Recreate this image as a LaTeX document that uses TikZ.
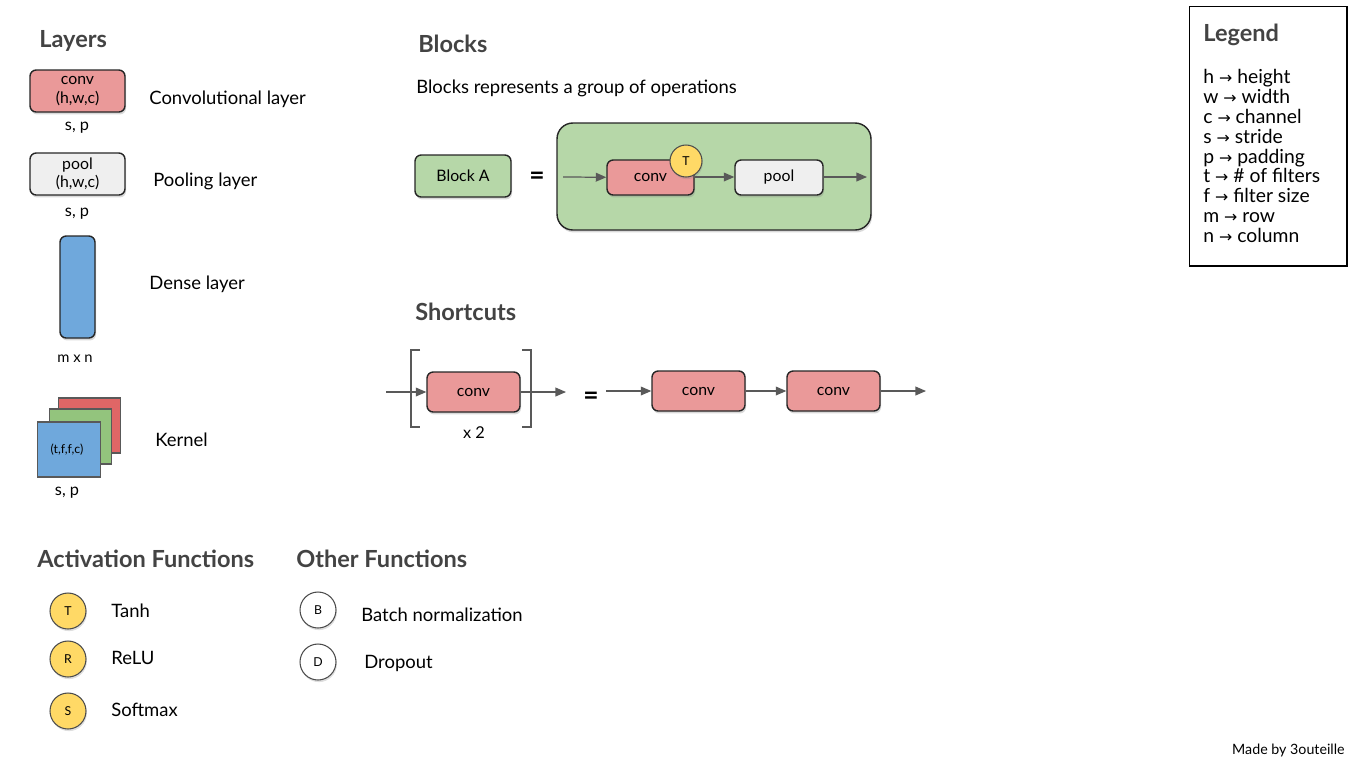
\documentclass[tikz,border=0pt]{standalone}
\usepackage{fontspec}
\setmainfont{Lato}
\newfontfamily\arrowfont{DejaVu Sans}
\usetikzlibrary{arrows.meta,shadows,positioning}
\definecolor{convred}{HTML}{EA9999}
\definecolor{poolgrey}{HTML}{EFEFEF}
\definecolor{denseblue}{HTML}{6FA8DC}
\definecolor{kernred}{HTML}{E06666}
\definecolor{kerngreen}{HTML}{93C47D}
\definecolor{blockgreen}{HTML}{B6D7A8}
\definecolor{actyellow}{HTML}{FFD966}
\definecolor{titlegrey}{HTML}{434343}
\definecolor{arrowgrey}{HTML}{595959}
\tikzset{
  layerbox/.style={draw=black!85, line width=0.8pt, rounded corners=3.5pt, inner sep=0pt,
    drop shadow={shadow xshift=0.6pt, shadow yshift=-1.4pt, opacity=0.3},
    font=\fontsize{9}{10.5}\selectfont, align=center},
  convbox/.style={layerbox, fill=convred, minimum width=1.86cm, minimum height=0.8cm},
  poolbox/.style={layerbox, fill=poolgrey, minimum width=1.76cm, minimum height=0.7cm},
  kernsq/.style={draw=arrowgrey, line width=0.6pt, minimum width=1.25cm, minimum height=1.1cm, inner sep=0pt},
  fcircle/.style={circle, draw=black!70, line width=0.6pt, minimum size=0.72cm, inner sep=0pt,
    drop shadow={shadow xshift=0.5pt, shadow yshift=-1.2pt, opacity=0.25},
    font=\fontsize{7}{8}\selectfont},
  title/.style={anchor=west, inner sep=0pt, text=titlegrey, font=\fontsize{13.4}{16}\selectfont\bfseries},
  caption/.style={anchor=west, inner sep=0pt, font=\fontsize{10.5}{12}\selectfont},
  note/.style={font=\fontsize{9.3}{11}\selectfont},
  flow/.style={draw=arrowgrey, line width=0.7pt, -{Triangle[length=6pt,width=5pt]}},
  equal/.style={font=\fontsize{15}{17}\selectfont\bfseries}
}
\begin{document}
\begin{tikzpicture}[x=0.02cm, y=-0.02cm]

	\useasboundingbox (0,0) rectangle (1355,762);

	\node[title] (layers) at (39,41) {Layers};
	\node[convbox, minimum width=1.9cm, minimum height=0.84cm] (convL) at (77.5,91) {conv\\(h,w,c)};
	\node[note] (convsp) at (77,128) {s, p};
	\node[caption] (convtxt) at (149,99) {Convolutional layer};
	\node[layerbox, fill=poolgrey, minimum width=1.9cm, minimum height=0.84cm] (poolL) at (77.5,174) {pool\\(h,w,c)};
	\node[note] (poolsp) at (77,214) {s, p};
	\node[caption] (pooltxt) at (153,181) {Pooling layer};
	\node[layerbox, fill=denseblue, minimum width=0.7cm, minimum height=2.04cm] (dense) at (77.5,287) {};
	\node[font=\fontsize{8.4}{10}\selectfont] (densemn) at (75,359) {m x n};
	\node[caption] (densetxt) at (149,284) {Dense layer};
	\node[kernsq, fill=kernred] (kred) at (89.5,425.5) {};
	\node[kernsq, fill=kerngreen] (kgreen) at (80.5,436.5) {};
	\node[kernsq, fill=denseblue] (kblue) at (69,449.5) {};
	\node[font=\fontsize{7}{8}\selectfont] (kdim) at (67,450) {(t,f,f,c)};
	\node[note] (kernsp) at (67,493) {s, p};
	\node[caption] (kerntxt) at (155,440) {Kernel};

	\node[title] (actf) at (37,559) {Activation Functions};
	\node[fcircle, fill=actyellow] (tanh) at (68,611) {T};
	\node[caption] (tanhtxt) at (111,611) {Tanh};
	\node[fcircle, fill=actyellow] (relu) at (68,659) {R};
	\node[caption] (relutxt) at (111,658) {ReLU};
	\node[fcircle, fill=actyellow] (soft) at (68,711) {S};
	\node[caption] (softtxt) at (111,710) {Softmax};

	\node[title] (otherf) at (296,559) {Other Functions};
	\node[fcircle, fill=white] (batch) at (318,610) {B};
	\node[caption] (batchtxt) at (361,615) {Batch normalization};
	\node[fcircle, fill=white] (drop) at (318,662) {D};
	\node[caption] (droptxt) at (364,663) {Dropout};

	\node[title] (blocks) at (418,44) {Blocks};
	\node[caption] (blockdesc) at (416,88) {Blocks represents a group of operations};
	\node[layerbox, fill=blockgreen, minimum width=1.92cm, minimum height=0.84cm] (blockA) at (463,176) {Block A};
	\node[equal] (eqA) at (537,178) {=};
	\node[layerbox, fill=blockgreen, rounded corners=9pt, minimum width=6.28cm, minimum height=2.14cm] (group) at (714,176.5) {};
	\coordinate (gin) at (563,177);
	\node[convbox, minimum width=1.74cm, minimum height=0.7cm] (gconv) at (650.5,177.5) {conv};
	\node[fcircle, fill=actyellow, minimum size=0.64cm] (gtanh) at (686,161) {T};
	\node[poolbox] (gpool) at (779,177.5) {pool};
	\coordinate (gout) at (867,177);
	\draw[flow] (gin) -- (gconv);
	\draw[flow] (gconv.east |- gin) -- (gpool.west |- gin);
	\draw[flow] (gpool.east |- gin) -- (gout);

	\node[title] (shortcuts) at (415,312) {Shortcuts};
	\coordinate (sin) at (386,392);
	\node[convbox] (sconv) at (473.5,392) {conv};
	\coordinate (sout) at (566,392);
	\draw[flow] (sin) -- (sconv);
	\draw[flow] (sconv) -- (sout);
	\draw[arrowgrey, line width=0.6pt] (420,350) -- (411,350) -- (411,427) -- (420,427);
	\draw[arrowgrey, line width=0.6pt] (522,350) -- (531,350) -- (531,427) -- (522,427);
	\node[note] (times) at (474,433) {x 2};
	\node[equal] (eqS) at (591,398) {=};
	\coordinate (rin) at (606,391);
	\node[convbox] (rconv1) at (698.5,391) {conv};
	\node[convbox] (rconv2) at (833.5,391) {conv};
	\coordinate (rout) at (926,391);
	\draw[flow] (rin) -- (rconv1);
	\draw[flow] (rconv1) -- (rconv2);
	\draw[flow] (rconv2) -- (rout);

	\node[draw=black, line width=0.6pt, minimum width=3.16cm, minimum height=5.2cm] (legend) at (1268,136) {};
	\node[title] (legtitle) at (1203,35) {Legend};
	\foreach \k/\v [count=\i] in {h/height, w/width, c/channel, s/stride, p/padding, t/\# of filters, f/filter size, m/row, n/column}
		\node[caption, anchor=base west, font=\fontsize{11}{13}\selectfont] (leg\i) at (1203,64+19.8*\i) {\k\ {\arrowfont\fontsize{9}{10}\selectfont →} \v};

	\node[anchor=east, inner sep=0pt, font=\fontsize{8.1}{10}\selectfont] (madeby) at (1345,750) {Made by 3outeille};

\end{tikzpicture}
\end{document}
